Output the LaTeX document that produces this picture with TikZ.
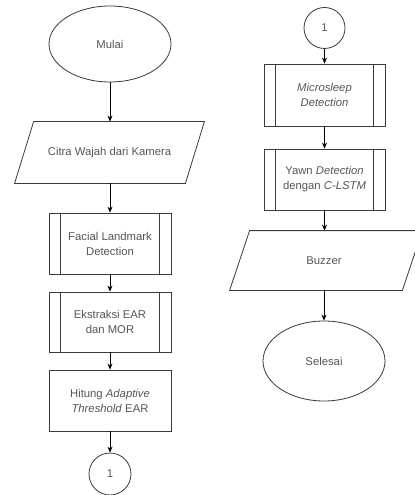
\documentclass[tikz,border=0pt]{standalone}
\usepackage{fontspec}
\setmainfont{Liberation Sans}
\usetikzlibrary{shapes.geometric,arrows.meta,calc}
\definecolor{linec}{HTML}{3A3A3A}
\definecolor{textc}{HTML}{555555}
\tikzset{
  base/.style={draw=linec, line width=0.8bp, text=textc, align=center,
    font=\fontsize{11.3bp}{15bp}\selectfont, inner sep=0pt},
  term/.style={base, ellipse, minimum width=122bp, minimum height=76bp},
  procbox/.style={base, rectangle, minimum width=122bp, minimum height=61bp},
  subproc/.style={procbox, append after command={
      \pgfextra{\let\mynode\tikzlastnode}
      ([xshift=12bp]\tikzlastnode.north west) edge[draw=linec, line width=0.8bp] ([xshift=12bp]\tikzlastnode.south west)
      ([xshift=-12bp]\tikzlastnode.north east) edge[draw=linec, line width=0.8bp] ([xshift=-12bp]\tikzlastnode.south east)}},
  iobox/.style={base, draw=none, rectangle},
  conn/.style={base, circle, minimum size=41bp},
  arr/.style={draw=black, line width=0.8bp, -{Stealth[length=6bp,width=5bp]}},
}
\begin{document}
\begin{tikzpicture}[x=1bp,y=-1bp]
\useasboundingbox (0,0) rectangle (414,495);
\fill[white] (0,0) rectangle (414,495);

% left column
\node[term] (mulai) at (110,44) {Mulai};
\node[iobox, minimum width=189bp, minimum height=61bp] (citra) at (109.5,152.5) {Citra Wajah dari Kamera};
\draw[draw=linec, line width=0.8bp] ($(citra.north west)+(19,0)$) -- (citra.north east)
  -- ($(citra.south east)+(-19,0)$) -- (citra.south west) -- cycle;
\node[subproc] (facial) at (110,243.5) {Facial Landmark\\Detection};
\node[subproc, minimum height=60bp] (ekstr) at (110,322) {Ekstraksi EAR\\dan MOR};
\node[procbox] (hitung) at (110,400.5) {Hitung \textit{Adaptive}\\\textit{Threshold} EAR};
\node[conn, minimum size=42bp] (c1) at (110,474) {1};

\draw[arr] (mulai.south) -- (mulai.south |- citra.north);
\draw[arr] (facial.north |- citra.south) -- (facial.north);
\draw[arr] (facial.south) -- (ekstr.north);
\draw[arr] (ekstr.south) -- (hitung.north);
\draw[arr] (hitung.south) -- (c1.north);

% right column
\node[conn] (c2) at (324.5,28) {1};
\node[subproc, minimum width=121bp, minimum height=62bp] (micro) at (324.5,95) {\textit{Microsleep}\\\textit{Detection}};
\node[subproc, minimum width=121bp] (yawn) at (324.5,179.5) {Yawn \textit{Detection}\\dengan \textit{C-LSTM}};
\node[iobox, minimum width=192bp, minimum height=59bp] (buzz) at (326,260.5) {};
\draw[draw=linec, line width=0.8bp] ($(buzz.north west)+(20,0)$) -- (buzz.north east)
  -- ($(buzz.south east)+(-20,0)$) -- (buzz.south west) -- cycle;
\node[text=textc, font=\fontsize{11.3bp}{15bp}\selectfont] (buzzt) at (324,260.5) {Buzzer};
\node[term, minimum height=80bp] (selesai) at (324,361) {Selesai};

\draw[arr] (c2.south) -- (micro.north);
\draw[arr] (micro.south) -- (yawn.north);
\draw[arr] (yawn.south) -- (yawn.south |- buzz.north);
\draw[arr] (selesai.north |- buzz.south) -- (selesai.north);
\end{tikzpicture}
\end{document}
